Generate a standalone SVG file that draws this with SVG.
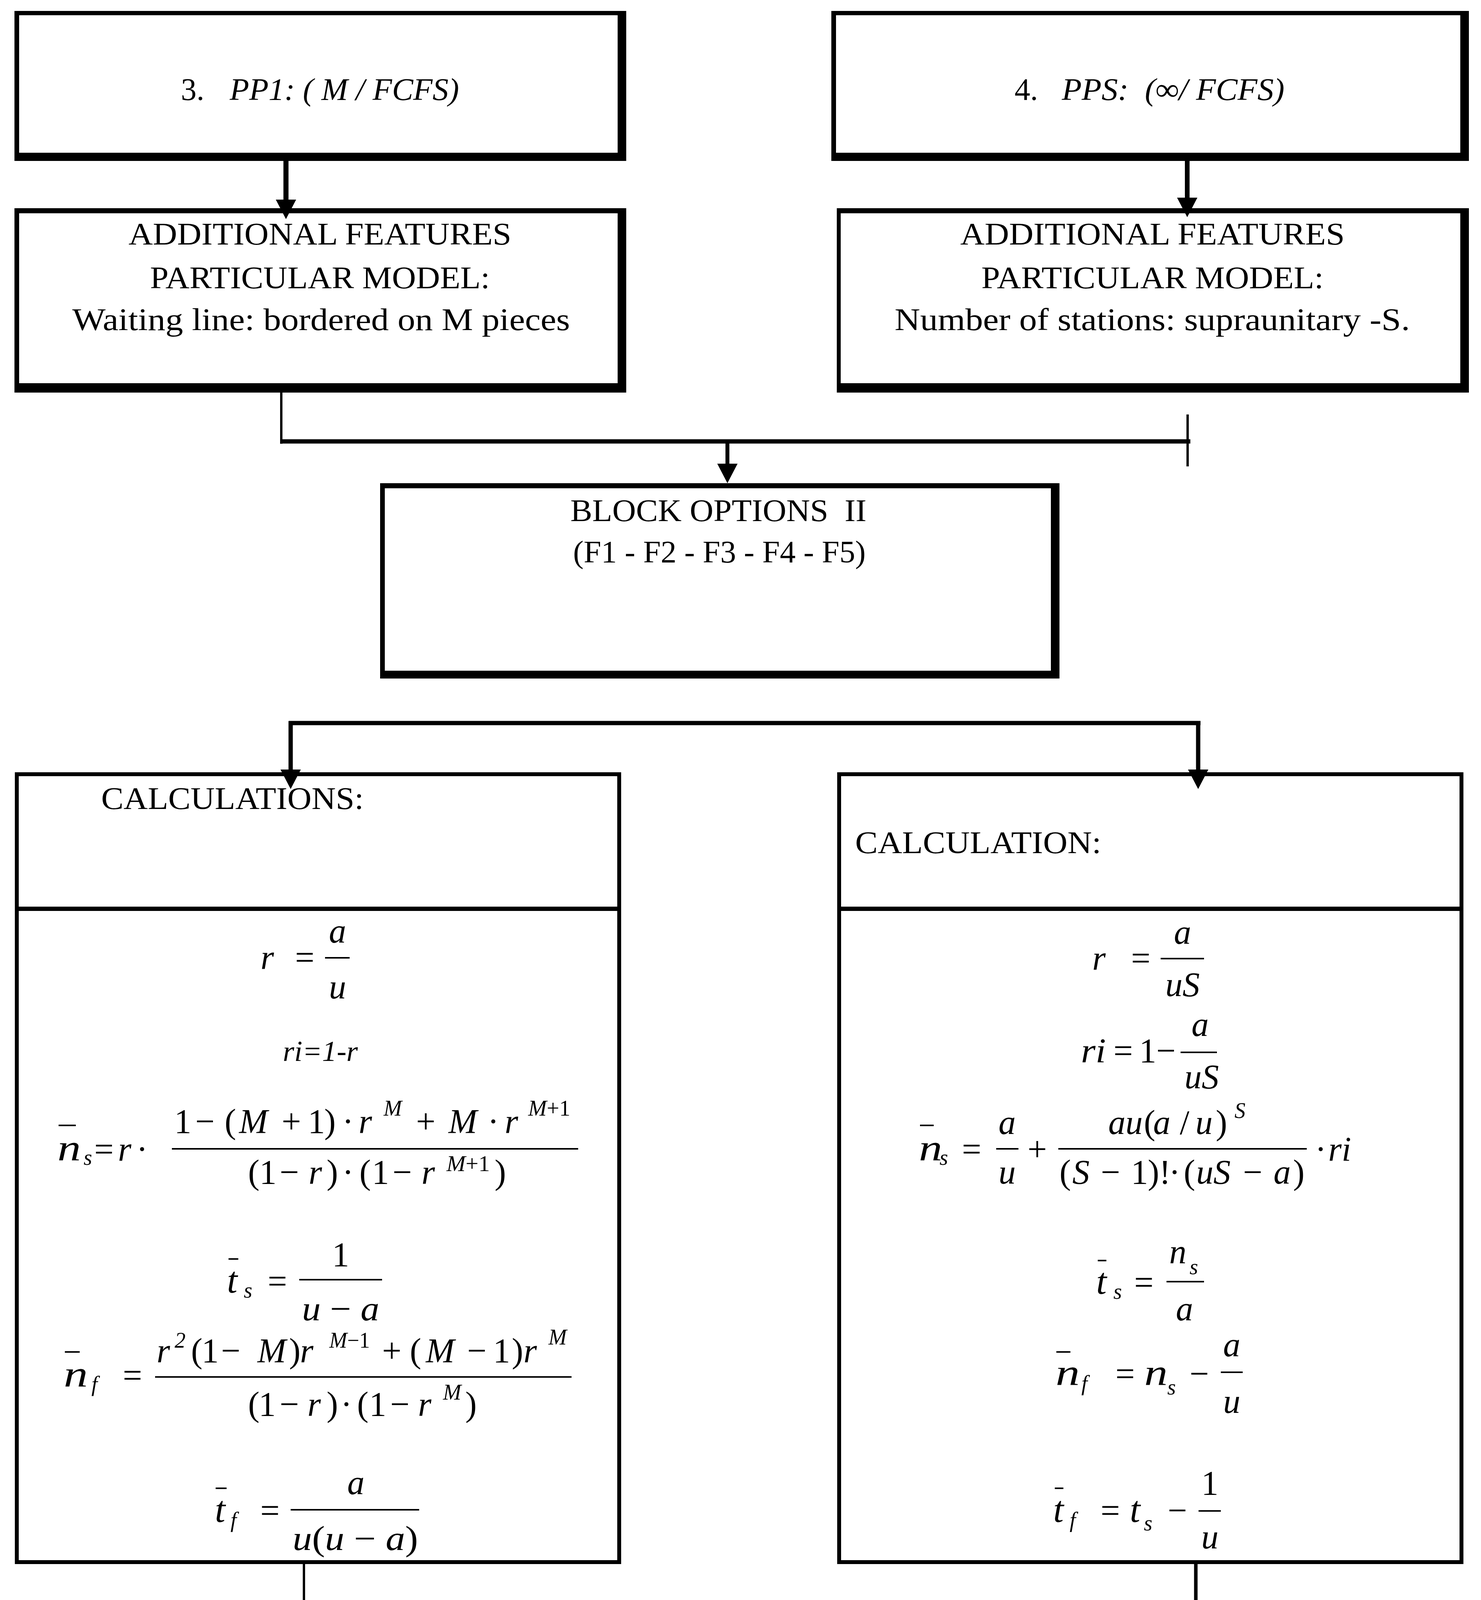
<svg xmlns="http://www.w3.org/2000/svg" width="3791" height="5223" viewBox="0 0 3791 5223">
<style>
.t{font-family:"Liberation Serif","Times New Roman",serif;fill:#000}
.lb{font-size:80px}
.mi{font-style:italic;font-size:88px}
.mu{font-style:normal}
.big{font-style:italic;font-size:96px}
.sb{font-style:italic;font-size:56px}
.c{text-anchor:middle}
.bar{stroke:#000;stroke-width:4}
.fr{stroke:#000;stroke-width:4}
.ln{stroke:#000;fill:none}
.outer{fill:#000}
.inner{fill:#fff}
</style>
<defs>
<marker id="ah" markerUnits="userSpaceOnUse" markerWidth="52" markerHeight="52" viewBox="0 0 52 52" refX="0" refY="26" orient="auto">
<path d="M0,0 L50,26 L0,52 z" fill="#000"/>
</marker>
</defs>
<rect width="3791" height="5223" fill="#fff"/>

<g id="box-pp1">
<rect class="outer" x="37" y="28" width="1566" height="384"/>
<rect class="inner" x="49" y="39" width="1532" height="352"/>
<text class="t lb" x="463" y="256">3.</text>
<text class="t lb" x="588" y="256" font-style="italic" textLength="587" lengthAdjust="spacingAndGlyphs">PP1: ( M / FCFS)</text>
</g>

<g id="box-pps">
<rect class="outer" x="2128" y="28" width="1632" height="384"/>
<rect class="inner" x="2140" y="39" width="1598" height="352"/>
<text class="t lb" x="2597" y="256">4.</text>
<text class="t lb" x="2718" y="256" font-style="italic" textLength="570" lengthAdjust="spacingAndGlyphs">PPS: &#160;(∞/ FCFS)</text>
</g>

<g id="box-features-left">
<rect class="outer" x="37" y="533" width="1566" height="472"/>
<rect class="inner" x="49" y="546" width="1532" height="435"/>
<text class="t lb" x="329" y="626" textLength="980" lengthAdjust="spacingAndGlyphs">ADDITIONAL FEATURES</text>
<text class="t lb" x="384" y="738" textLength="870" lengthAdjust="spacingAndGlyphs">PARTICULAR MODEL:</text>
<text class="t lb" x="185" y="845" textLength="1274" lengthAdjust="spacingAndGlyphs">Waiting line: bordered on M pieces</text>
</g>

<g id="box-features-right">
<rect class="outer" x="2142" y="533" width="1618" height="472"/>
<rect class="inner" x="2152" y="546" width="1586" height="435"/>
<text class="t lb" x="2458" y="626" textLength="984" lengthAdjust="spacingAndGlyphs">ADDITIONAL FEATURES</text>
<text class="t lb" x="2512" y="738" textLength="876" lengthAdjust="spacingAndGlyphs">PARTICULAR MODEL:</text>
<text class="t lb" x="2290" y="845" textLength="1319" lengthAdjust="spacingAndGlyphs">Number of stations: supraunitary -S.</text>
</g>

<g id="block-options-2">
<rect class="outer" x="973" y="1237" width="1739" height="500"/>
<rect class="inner" x="985" y="1250" width="1705" height="467"/>
<text class="t lb" x="1460" y="1334" textLength="758" lengthAdjust="spacingAndGlyphs">BLOCK OPTIONS &#160;II</text>
<text class="t lb" x="1467" y="1440" textLength="749" lengthAdjust="spacingAndGlyphs">(F1 - F2 - F3 - F4 - F5)</text>
</g>

<g id="calc-left">
<rect class="outer" x="38" y="1977" width="1552" height="2027"/>
<rect class="inner" x="48" y="1987" width="1532" height="2007"/>
<rect class="outer" x="48" y="2321" width="1532" height="11"/>
<text class="t lb" x="259" y="2071" textLength="672" lengthAdjust="spacingAndGlyphs">CALCULATIONS:</text>
<!-- r = a/u -->
<text class="t mi" x="667" y="2480">r</text>
<text class="t mi mu c" x="780" y="2480">=</text>
<line class="fr" x1="832" y1="2452" x2="895" y2="2452"/>
<text class="t mi c" x="864" y="2413">a</text>
<text class="t mi c" x="864" y="2556">u</text>
<!-- ri=1-r -->
<text class="t" font-style="italic" font-size="74" x="724" y="2716" textLength="192" lengthAdjust="spacingAndGlyphs">ri=1-r</text>
<!-- ns -->
<line class="bar" x1="150" y1="2881" x2="194" y2="2881"/>
<text class="t big" x="147" y="2971" textLength="60" lengthAdjust="spacingAndGlyphs">n</text>
<text class="t sb" x="214" y="2982">s</text>
<text class="t mi mu c" x="266" y="2971">=</text>
<text class="t mi" x="302" y="2971">r</text>
<text class="t mi mu" x="349" y="2971">·</text>
<text class="t mi" y="2900"><tspan class="mu" x="446">1</tspan><tspan class="mu" x="500">−</tspan><tspan class="mu" x="575">(</tspan><tspan x="612">M</tspan><tspan class="mu" x="721">+</tspan><tspan class="mu" x="788">1</tspan><tspan class="mu" x="830">)</tspan><tspan class="mu" x="876">·</tspan><tspan x="918">r</tspan><tspan class="mu" x="1065">+</tspan><tspan x="1148">M</tspan><tspan class="mu" x="1248">·</tspan><tspan x="1292">r</tspan></text>
<text class="t sb" x="982" y="2856">M</text>
<text class="t sb" x="1352" y="2856" textLength="108" lengthAdjust="spacingAndGlyphs">M<tspan font-style="normal">+1</tspan></text>
<line class="fr" x1="440" y1="2941" x2="1480" y2="2941"/>
<text class="t mi" y="3030"><tspan class="mu" x="635">(</tspan><tspan class="mu" x="664">1</tspan><tspan class="mu" x="716">−</tspan><tspan x="790">r</tspan><tspan class="mu" x="836">)</tspan><tspan class="mu" x="876">·</tspan><tspan class="mu" x="920">(</tspan><tspan class="mu" x="952">1</tspan><tspan class="mu" x="1005">−</tspan><tspan x="1079">r</tspan><tspan class="mu" x="1266">)</tspan></text>
<text class="t sb" x="1143" y="2998" textLength="111" lengthAdjust="spacingAndGlyphs">M<tspan font-style="normal">+1</tspan></text>
<!-- ts -->
<line class="bar" x1="585" y1="3223" x2="610" y2="3223"/>
<text class="t big" x="581" y="3309">t</text>
<text class="t sb" x="624" y="3322">s</text>
<text class="t mi mu c" x="710" y="3309">=</text>
<line class="fr" x1="766" y1="3276" x2="978" y2="3276"/>
<text class="t mi mu c" x="872" y="3241">1</text>
<text class="t mi" x="773" y="3380" textLength="198" lengthAdjust="spacingAndGlyphs">u <tspan font-style="normal">−</tspan> a</text>
<!-- nf -->
<line class="bar" x1="166" y1="3461" x2="204" y2="3461"/>
<text class="t big" x="163" y="3550" textLength="62" lengthAdjust="spacingAndGlyphs">n</text>
<text class="t sb" x="234" y="3562">f</text>
<text class="t mi mu c" x="339" y="3550">=</text>
<line class="fr" x1="397" y1="3525" x2="1463" y2="3525"/>
<text class="t mi" y="3487"><tspan x="401">r</tspan><tspan class="mu" x="489">(</tspan><tspan class="mu" x="516">1</tspan><tspan class="mu" x="566">−</tspan><tspan x="659">M</tspan><tspan class="mu" x="740">)</tspan><tspan x="768">r</tspan><tspan class="mu" x="978">+</tspan><tspan class="mu" x="1049">(</tspan><tspan x="1090">M</tspan><tspan class="mu" x="1196">−</tspan><tspan class="mu" x="1262">1</tspan><tspan class="mu" x="1310">)</tspan><tspan x="1340">r</tspan></text>
<text class="t sb mu" x="447" y="3450" font-style="normal">2</text>
<text class="t sb" x="843" y="3450" textLength="104" lengthAdjust="spacingAndGlyphs">M<tspan font-style="normal">−1</tspan></text>
<text class="t sb" x="1404" y="3442">M</text>
<text class="t mi" y="3624"><tspan class="mu" x="635">(</tspan><tspan class="mu" x="662">1</tspan><tspan class="mu" x="716">−</tspan><tspan x="787">r</tspan><tspan class="mu" x="836">)</tspan><tspan class="mu" x="872">·</tspan><tspan class="mu" x="914">(</tspan><tspan class="mu" x="945">1</tspan><tspan class="mu" x="999">−</tspan><tspan x="1070">r</tspan><tspan class="mu" x="1191">)</tspan></text>
<text class="t sb" x="1134" y="3583">M</text>
<!-- tf -->
<line class="bar" x1="552" y1="3810" x2="580" y2="3810"/>
<text class="t big" x="550" y="3896">t</text>
<text class="t sb" x="590" y="3910">f</text>
<text class="t mi mu c" x="691" y="3896">=</text>
<line class="fr" x1="744" y1="3865" x2="1073" y2="3865"/>
<text class="t mi c" x="911" y="3825">a</text>
<text class="t mi" x="749" y="3968" textLength="321" lengthAdjust="spacingAndGlyphs">u<tspan font-style="normal">(</tspan>u <tspan font-style="normal">−</tspan> a<tspan font-style="normal">)</tspan></text>
</g>

<g id="calc-right">
<rect class="outer" x="2143" y="1977" width="1603" height="2027"/>
<rect class="inner" x="2153" y="1987" width="1583" height="2007"/>
<rect class="outer" x="2153" y="2321" width="1583" height="11"/>
<text class="t lb" x="2189" y="2184" textLength="630" lengthAdjust="spacingAndGlyphs">CALCULATION:</text>
<!-- r = a/uS -->
<text class="t mi" x="2796" y="2482">r</text>
<text class="t mi mu c" x="2920" y="2482">=</text>
<line class="fr" x1="2971" y1="2454" x2="3082" y2="2454"/>
<text class="t mi c" x="3027" y="2416">a</text>
<text class="t mi c" x="3027" y="2550">uS</text>
<!-- ri = 1 - a/uS -->
<text class="t mi" x="2767" y="2719" textLength="64" lengthAdjust="spacingAndGlyphs">ri</text>
<text class="t mi mu c" x="2875" y="2719">=</text>
<text class="t mi mu" x="2916" y="2719">1</text>
<text class="t mi mu" x="2960" y="2719" font-size="70">−</text>
<line class="fr" x1="3022" y1="2694" x2="3115" y2="2694"/>
<text class="t mi c" x="3072" y="2652">a</text>
<text class="t mi c" x="3076" y="2786">uS</text>
<!-- ns -->
<line class="bar" x1="2355" y1="2881" x2="2390" y2="2881"/>
<text class="t big" x="2352" y="2971" textLength="60" lengthAdjust="spacingAndGlyphs">n</text>
<text class="t sb" x="2405" y="2982">s</text>
<text class="t mi mu c" x="2487" y="2971">=</text>
<line class="fr" x1="2550" y1="2941" x2="2607" y2="2941"/>
<text class="t mi c" x="2578" y="2903">a</text>
<text class="t mi c" x="2578" y="3030">u</text>
<text class="t mi mu c" x="2655" y="2971">+</text>
<line class="fr" x1="2709" y1="2941" x2="3345" y2="2941"/>
<text class="t mi" y="2903"><tspan x="2837">au</tspan><tspan class="mu" x="2928">(</tspan><tspan x="2952">a</tspan><tspan class="mu" x="3020">/</tspan><tspan x="3060">u</tspan><tspan class="mu" x="3112">)</tspan></text>
<text class="t sb" x="3160" y="2862">S</text>
<text class="t mi" y="3030"><tspan class="mu" x="2712">(</tspan><tspan x="2745">S</tspan><tspan class="mu" x="2818">−</tspan><tspan class="mu" x="2895">1</tspan><tspan class="mu" x="2938">)!</tspan><tspan class="mu" x="2992">·</tspan><tspan class="mu" x="3030">(</tspan><tspan x="3062">uS</tspan><tspan class="mu" x="3182">−</tspan><tspan x="3260">a</tspan><tspan class="mu" x="3310">)</tspan></text>
<text class="t mi" y="2971"><tspan class="mu" x="3366">·</tspan><tspan x="3400">ri</tspan></text>
<!-- ts = ns/a -->
<line class="bar" x1="2810" y1="3227" x2="2832" y2="3227"/>
<text class="t big" x="2806" y="3312">t</text>
<text class="t sb" x="2850" y="3325">s</text>
<text class="t mi mu c" x="2928" y="3312">=</text>
<line class="fr" x1="2986" y1="3281" x2="3082" y2="3281"/>
<text class="t mi" x="2993" y="3234">n</text>
<text class="t sb" x="3045" y="3262">s</text>
<text class="t mi c" x="3032" y="3380">a</text>
<!-- nf = ns - a/u -->
<line class="bar" x1="2704" y1="3461" x2="2740" y2="3461"/>
<text class="t big" x="2702" y="3546" textLength="62" lengthAdjust="spacingAndGlyphs">n</text>
<text class="t sb" x="2768" y="3560">f</text>
<text class="t mi mu c" x="2880" y="3546">=</text>
<text class="t big" x="2929" y="3546" textLength="60" lengthAdjust="spacingAndGlyphs">n</text>
<text class="t sb" x="2988" y="3570">s</text>
<text class="t mi mu c" x="3070" y="3546">−</text>
<line class="fr" x1="3125" y1="3513" x2="3181" y2="3513"/>
<text class="t mi c" x="3153" y="3472">a</text>
<text class="t mi c" x="3153" y="3617">u</text>
<!-- tf = ts - 1/u -->
<line class="bar" x1="2700" y1="3810" x2="2722" y2="3810"/>
<text class="t big" x="2696" y="3896">t</text>
<text class="t sb" x="2738" y="3910">f</text>
<text class="t mi mu c" x="2842" y="3896">=</text>
<text class="t big" x="2892" y="3896">t</text>
<text class="t sb" x="2928" y="3918">s</text>
<text class="t mi mu c" x="3014" y="3896">−</text>
<line class="fr" x1="3068" y1="3868" x2="3125" y2="3868"/>
<text class="t mi mu c" x="3097" y="3826">1</text>
<text class="t mi c" x="3097" y="3964">u</text>
</g>

<g id="block-options-3">
<rect class="outer" x="712" y="4228" width="2308" height="356"/>
<rect class="inner" x="723" y="4240" width="2280" height="324"/>
<text class="t lb" x="1467" y="4318" textLength="789" lengthAdjust="spacingAndGlyphs">BLOCK OPTIONS &#160;III</text>
<text class="t lb" x="1545" y="4430" textLength="635" lengthAdjust="spacingAndGlyphs">( F6 - F7 - F8 - F9 )</text>
</g>

<g id="output-data">
<rect class="outer" x="761" y="4711" width="2279" height="479"/>
<rect class="inner" x="773" y="4724" width="2244" height="441"/>
<text class="t lb" x="1018" y="4815" textLength="615" lengthAdjust="spacingAndGlyphs">OUTPUT DATA:</text>
<line class="bar" x1="1806" y1="4758" x2="1860" y2="4758"/>
<text class="t" font-style="italic" font-size="84" x="1800" y="4815" textLength="56" lengthAdjust="spacingAndGlyphs">n</text>
<text class="t sb" x="1858" y="4832" font-size="46">s</text>
<text class="t" font-style="italic" font-size="60" x="1890" y="4815">,</text>
<text class="t" font-style="italic" font-size="72" x="1973" y="4815">t</text>
<text class="t" font-style="italic" font-size="46" x="1994" y="4815">s,</text>
<line class="bar" x1="2078" y1="4758" x2="2132" y2="4758"/>
<text class="t" font-style="italic" font-size="84" x="2074" y="4815" textLength="58" lengthAdjust="spacingAndGlyphs">n</text>
<text class="t sb" x="2134" y="4832" font-size="52">f</text>
<text class="t" font-style="italic" font-size="60" x="2180" y="4815">,</text>
<text class="t" font-style="italic" font-size="72" x="2248" y="4815">t</text>
<text class="t" font-style="italic" font-size="46" x="2268" y="4815">f,</text>
<text class="t" font-style="italic" font-size="72" x="2369" y="4815">r,</text>
<text class="t" font-style="italic" font-size="72" x="2464" y="4815">ri</text>
</g>

<g id="connectors">
<line class="ln" x1="732" y1="412" x2="732" y2="511" stroke-width="13" marker-end="url(#ah)"/>
<line class="ln" x1="3039" y1="412" x2="3039" y2="506" stroke-width="12" marker-end="url(#ah)"/>
<line class="ln" x1="720" y1="1005" x2="720" y2="1136" stroke-width="6"/>
<line class="ln" x1="717" y1="1130" x2="3047" y2="1130" stroke-width="11"/>
<line class="ln" x1="3040" y1="1061" x2="3040" y2="1194" stroke-width="6"/>
<line class="ln" x1="1862" y1="1130" x2="1862" y2="1187" stroke-width="10" marker-end="url(#ah)"/>
<line class="ln" x1="739" y1="1851" x2="3073" y2="1851" stroke-width="11"/>
<line class="ln" x1="744" y1="1846" x2="744" y2="1970" stroke-width="11" marker-end="url(#ah)"/>
<line class="ln" x1="3067" y1="1846" x2="3067" y2="1970" stroke-width="11" marker-end="url(#ah)"/>
<line class="ln" x1="778" y1="4004" x2="778" y2="4136" stroke-width="6"/>
<line class="ln" x1="775" y1="4132" x2="3106" y2="4132" stroke-width="10"/>
<line class="ln" x1="3061" y1="4000" x2="3061" y2="4141" stroke-width="9"/>
<line class="ln" x1="1850" y1="4132" x2="1850" y2="4178" stroke-width="9" marker-end="url(#ah)"/>
<line class="ln" x1="1847" y1="4555" x2="1847" y2="4645" stroke-width="8" marker-end="url(#ah)"/>
</g>
</svg>
